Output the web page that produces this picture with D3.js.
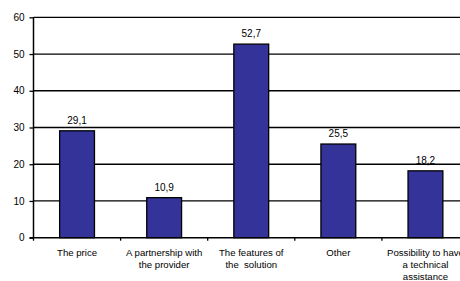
<!DOCTYPE html>
<html>
<head>
<meta charset="utf-8">
<script src="https://cdn.jsdelivr.net/npm/d3@7"></script>
<style>
  html, body { margin: 0; padding: 0; background: #ffffff; }
  svg { display: block; }
  text { font-family: "Liberation Sans", Arial, sans-serif; fill: #000; }
</style>
</head>
<body>
<svg id="chart" width="460" height="281"></svg>
<script>
const categories = [
  ["The price"],
  ["A partnership with", "the provider"],
  ["The features of", "the  solution"],
  ["Other"],
  ["Possibility to have", "a technical", "assistance"]
];
const values = [29.1, 10.9, 52.7, 25.5, 18.2];
const yTicks = [0, 10, 20, 30, 40, 50, 60];

const svg = d3.select("#chart");
const mLeft = 33.5, mRight = 469, mTop = 17.3, mBottom = 237.7;

const x = d3.scaleBand().domain(d3.range(values.length)).range([mLeft, mRight]).paddingInner(0.6).paddingOuter(0.3);
const xb = d3.scaleBand().domain(d3.range(values.length)).range([mLeft, mRight]);
const y = d3.scaleLinear().domain([0, 60]).range([mBottom, mTop]);

// gridlines
svg.append("g").selectAll("line").data(yTicks.slice(1)).join("line")
  .attr("x1", mLeft).attr("x2", 460)
  .attr("y1", d => y(d)).attr("y2", d => y(d))
  .attr("stroke", "#000").attr("stroke-width", 1.3);

// y axis
const yAxis = d3.axisLeft(y).tickValues(yTicks).tickSize(4).tickPadding(5).tickFormat(d3.format("d"));
const gy = svg.append("g").attr("transform", `translate(${mLeft},0)`).call(yAxis);
gy.select(".domain").attr("stroke", "#000").attr("stroke-width", 1.5).attr("d", `M0,${y(60)}V${y(0)}`);
gy.selectAll(".tick line").attr("stroke", "#000").attr("stroke-width", 1.3);
gy.selectAll(".tick text").attr("font-size", 10).attr("font-family", "Liberation Sans, Arial, sans-serif").attr("fill", "#000");

// bars
svg.append("g").selectAll("rect").data(values).join("rect")
  .attr("x", (d, i) => x(i)).attr("width", x.bandwidth())
  .attr("y", d => y(d)).attr("height", d => y(0) - y(d))
  .attr("fill", "#333399").attr("stroke", "#000").attr("stroke-width", 1.3);

// x axis line
svg.append("line").attr("x1", mLeft - 4).attr("x2", 460).attr("y1", mBottom).attr("y2", mBottom)
  .attr("stroke", "#000").attr("stroke-width", 1.5);
// x ticks at category boundaries
svg.append("g").selectAll("line").data(d3.range(values.length + 1)).join("line")
  .attr("x1", i => mLeft + i * xb.step()).attr("x2", i => mLeft + i * xb.step())
  .attr("y1", mBottom).attr("y2", mBottom + 3)
  .attr("stroke", "#000").attr("stroke-width", 1.3);

// value labels
svg.append("g").selectAll("text").data(values).join("text")
  .attr("x", (d, i) => x(i) + x.bandwidth() / 2)
  .attr("y", d => y(d) - 7)
  .attr("text-anchor", "middle").attr("font-size", 10)
  .text(d => d3.format(".1f")(d).replace(".", ","));

// category labels
const cg = svg.append("g").selectAll("text").data(categories).join("text")
  .attr("text-anchor", "middle").attr("font-size", 9.6)
  .attr("transform", (d, i) => `translate(${xb(i) + xb.bandwidth() / 2},0)`);
cg.selectAll("tspan").data(d => d).join("tspan")
  .attr("x", 0).attr("y", (d, j) => 256 + j * 12.2)
  .attr("xml:space", "preserve")
  .text(d => d);
</script>
</body>
</html>
